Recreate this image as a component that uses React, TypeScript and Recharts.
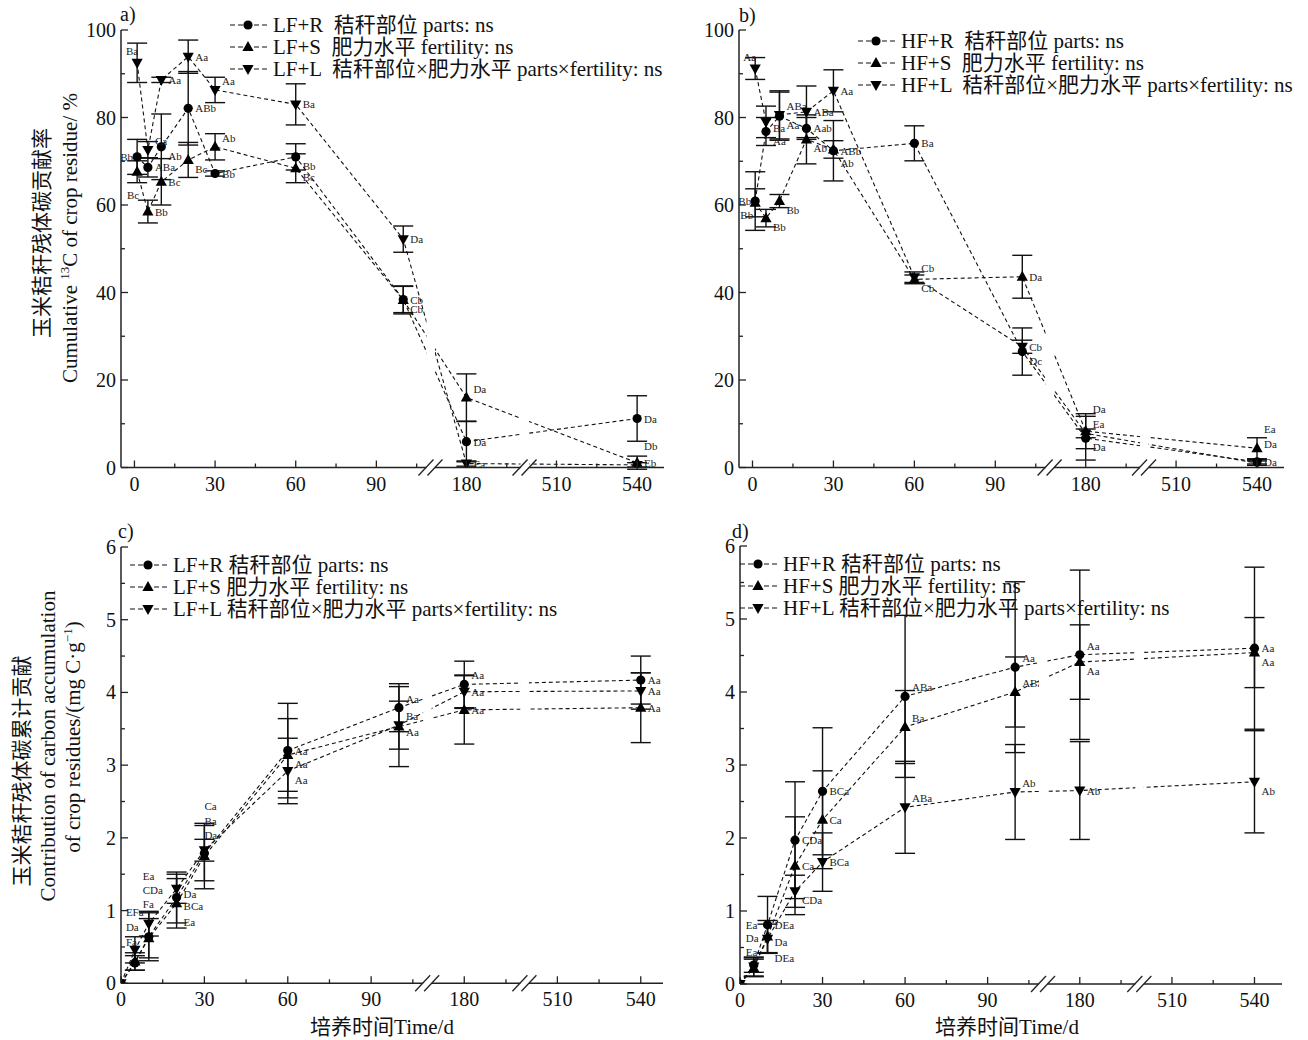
import React from 'react';
import { LineChart, Line, XAxis, YAxis, ErrorBar, ReferenceDot } from 'recharts';

const FONT = "'Liberation Serif', 'Times New Roman', 'Noto Sans CJK SC', serif";
const INK = '#111';

// ---------- shared x axis (broken time axis) ----------
const xMajorDays = [0, 30, 60, 90, 180, 510, 540];
const xMinorDays = [15, 45, 75, 105, 195, 525];
const BREAKS = [110.5, 145.5];
const toPos = (d: number): number => (d <= 120 ? d : d < 400 ? d - 56.5 : d - 353);

// ---------- panel a : LF, cumulative 13C (%) ----------
const daysA = [1, 5, 10, 20, 30, 60, 100, 180, 540];
const aR = [71.0, 68.6, 73.3, 82.1, 67.2, 71.0, 38.4, 5.9, 11.2];
const aRe = [4.0, 2.2, 7.5, 8.4, 0.6, 3.0, 3.0, 4.6, 5.2];
const aS = [67.6, 58.5, 65.3, 70.3, 73.3, 68.4, 38.3, 16.0, 1.1];
const aSe = [2.5, 2.6, 5.3, 4.0, 3.0, 3.3, 3.2, 5.4, 1.5];
const aL = [92.5, 72.6, 88.6, 93.9, 86.3, 83.0, 52.2, 0.9, 0.6];
const aLe = [4.5, 1.9, 0.6, 3.8, 2.9, 4.7, 3.0, 0.6, 0.5];
const aRlab = ['ABb', 'ABa', 'Ab', 'ABb', 'Bb', 'Bb', 'Cb', 'Da', 'Da'];
const aSlab = ['Bc', 'Bb', 'Bc', 'Bc', 'Ab', 'Bc', 'Cb', 'Da', 'Eb'];
const aLlab = ['Ba', 'Ca', 'Aa', 'Aa', 'Aa', 'Ba', 'Da', 'Ea', 'Db'];
const aRpl = ['l', 'r', 'rd', 'r', 'r', 'rd', 'r', 'r', 'r'];
const aSpl = ['ldd', 'r', 'r', 'rd', 'ru', 'rd', 'rd', 'ru', 'r'];
const aLpl = ['lu', 'ru', 'r', 'r', 'ru', 'r', 'r', 'r', 'ruu'];

// ---------- panel b : HF, cumulative 13C (%) ----------
const bR = [60.9, 76.8, 80.3, 77.5, 72.4, 74.1, 26.5, 6.7, 1.3];
const bRe = [6.7, 3.2, 5.5, 2.5, 6.9, 4.0, 5.4, 5.0, 0.5];
const bS = [60.5, 57.0, 60.9, 75.0, 72.7, 43.0, 43.6, 8.3, 4.4];
const bSe = [3.2, 2.0, 1.5, 5.6, 2.0, 1.0, 4.9, 4.0, 2.4];
const bL = [91.2, 79.0, 80.6, 81.3, 86.1, 43.5, 27.6, 7.8, 1.0];
const bLe = [2.5, 3.6, 5.5, 5.9, 4.8, 1.2, 1.5, 1.0, 0.5];
const bRlab = ['Bb', 'Ba', 'Aa', 'Aab', 'ABb', 'Ba', 'Dc', 'Da', 'Da'];
const bSlab = ['Bb', 'Bb', 'Bb', 'Ab', 'Ab', 'Cb', 'Da', 'Da', 'Ea'];
const bLlab = ['Aa', 'Aa', 'ABa', 'ABa', 'Aa', 'Cb', 'Cb', 'Ea', 'Da'];
const bRpl = ['l', 'r0', 'rd', 'r', 'r', 'r', 'rd', 'rd', 'r'];
const bSpl = ['ld', 'rd', 'rd', 'rd', 'rd2', 'rd', 'r', 'ru2', 'ruu'];
const bLpl = ['lu', 'rdd', 'ru', 'r', 'r', 'ru', 'r', 'ru', 'ruu'];

// ---------- panel c : LF, carbon accumulation (mg C/g) ----------
const daysC = [0, 5, 10, 20, 30, 60, 100, 180, 540];
const cR = [0, 0.28, 0.64, 1.18, 1.79, 3.20, 3.79, 4.11, 4.17];
const cRe = [0, 0.1, 0.33, 0.35, 0.38, 0.65, 0.33, 0.32, 0.33];
const cS = [0, 0.30, 0.62, 1.10, 1.75, 3.14, 3.53, 3.76, 3.79];
const cSe = [0, 0.12, 0.27, 0.34, 0.45, 0.5, 0.55, 0.47, 0.48];
const cL = [0, 0.46, 0.82, 1.30, 1.83, 2.92, 3.55, 4.01, 4.02];
const cLe = [0, 0.18, 0.17, 0.2, 0.15, 0.45, 0.33, 0.23, 0.25];
const cRlab = ['', 'Da', 'CDa', 'BCa', 'Ba', 'Aa', 'Aa', 'Aa', 'Aa'];
const cSlab = ['', 'Fa', 'Fa', 'Ea', 'Da', 'Aa', 'Aa', 'Aa', 'Aa'];
const cLlab = ['', 'EFa', 'Ea', 'Da', 'Ca', 'Aa', 'Ba', 'Aa', 'Aa'];
const cRpl = ['r', 'q2', 'w2', 'rd', 'e2', 'r', 'ru', 'ru', 'r'];
const cSpl = ['r', 'q3', 'w3', 'rdd', 'e3', 'rd', 'rm', 'r', 'r'];
const cLpl = ['r', 'q1', 'w1', 'rm', 'e1', 'rd', 'ru', 'r', 'r'];

// ---------- panel d : HF, carbon accumulation (mg C/g) ----------
const dR = [0, 0.26, 0.81, 1.97, 2.64, 3.94, 4.34, 4.51, 4.60];
const dRe = [0, 0.1, 0.39, 0.8, 0.87, 1.11, 1.17, 1.16, 1.11];
const dS = [0, 0.22, 0.65, 1.62, 2.25, 3.52, 4.00, 4.41, 4.54];
const dSe = [0, 0.12, 0.22, 0.67, 0.67, 0.5, 0.48, 0.51, 0.48];
const dL = [0, 0.24, 0.62, 1.27, 1.67, 2.42, 2.63, 2.65, 2.77];
const dLe = [0, 0.13, 0.2, 0.22, 0.4, 0.63, 0.65, 0.67, 0.70];
const dRlab = ['', 'Ea', 'DEa', 'CDa', 'BCa', 'ABa', 'Aa', 'Aa', 'Aa'];
const dSlab = ['', 'Da', 'Da', 'Ca', 'Ca', 'Ba', 'ABa', 'Aa', 'Aa'];
const dLlab = ['', 'Ea', 'DEa', 'CDa', 'BCa', 'ABa', 'Ab', 'Ab', 'Ab'];
const dRpl = ['r', 't1', 'r', 'r', 'r', 'ru', 'ru', 'ru', 'r'];
const dSpl = ['r', 't2', 'rm', 'r', 'r', 'ru', 'ru', 'rd', 'rd'];
const dLpl = ['r', 't3', 'rdd', 'rd', 'r', 'ru', 'ru', 'r', 'rd'];

// ---------- legends ----------
const legendA = ['LF+R  秸秆部位 parts: ns', 'LF+S  肥力水平 fertility: ns', 'LF+L  秸秆部位×肥力水平 parts×fertility: ns'];
const legendB = ['HF+R  秸秆部位 parts: ns', 'HF+S  肥力水平 fertility: ns', 'HF+L  秸秆部位×肥力水平 parts×fertility: ns'];
const legendC = ['LF+R 秸秆部位 parts: ns', 'LF+S 肥力水平 fertility: ns', 'LF+L 秸秆部位×肥力水平 parts×fertility: ns'];
const legendD = ['HF+R 秸秆部位 parts: ns', 'HF+S 肥力水平 fertility: ns', 'HF+L 秸秆部位×肥力水平 parts×fertility: ns'];
const SHAPES = ['circle', 'up', 'down'];

// label placement codes: [dx, dy, anchor]
const PLACE: Record<string, [number, number, string]> = {
  r: [7, 4, 'start'], r0: [7, 0, 'start'], ru: [7, -5, 'start'], ruu: [7, -15, 'start'], ru2: [7, -18, 'start'],
  rm: [7, 9, 'start'], rd: [7, 13, 'start'], rd2: [7, 18, 'start'], rdd: [7, 23, 'start'],
  l: [-4, 4, 'end'], lu: [1, -8, 'end'], ld: [-2, 16, 'end'], ldd: [2, 27, 'end'],
  q1: [-9, -34, 'start'], q2: [-9, -32, 'start'], q3: [-9, -15, 'start'],
  w1: [-6, -44, 'start'], w2: [-6, -43, 'start'], w3: [-6, -30, 'start'],
  e1: [0, -40, 'start'], e2: [0, -28, 'start'], e3: [0, -17, 'start'],
  t1: [-8, -36, 'start'], t2: [-8, -26, 'start'], t3: [-8, -10, 'start'],
};

const buildRows = (days: number[], R: number[], Re: number[], S: number[], Se: number[], L: number[], Le: number[]) =>
  days.map((d, i) => ({ day: d, pos: toPos(d), R: R[i], Re: Re[i], S: S[i], Se: Se[i], L: L[i], Le: Le[i] }));

const X_TICKS = [
  ...xMajorDays.map((d) => ({ pos: toPos(d), text: String(d) })),
  ...xMinorDays.map((d) => ({ pos: toPos(d), text: '' })),
].sort((a, b) => a.pos - b.pos);

function Marker({ shape, cx, cy }: { shape: string; cx: number; cy: number }) {
  if (shape === 'circle') return <circle cx={cx} cy={cy} r={4.6} fill="#000" />;
  if (shape === 'up')
    return <polygon points={`${cx},${cy - 6} ${cx - 5.6},${cy + 4} ${cx + 5.6},${cy + 4}`} fill="#000" />;
  return <polygon points={`${cx},${cy + 6} ${cx - 5.6},${cy - 4} ${cx + 5.6},${cy - 4}`} fill="#000" />;
}

const makeDot = (shape: string, labels: string[], places: string[]) => (props: any) => {
  const { cx, cy, index } = props;
  if (cx == null || cy == null || isNaN(cx) || isNaN(cy)) return <g key={`n${index}`} />;
  const lab = labels[index];
  const pl = PLACE[places[index]] || PLACE.r;
  return (
    <g key={`d${index}`}>
      {lab ? (
        <text x={cx + pl[0]} y={cy + pl[1]} textAnchor={pl[2] as any} fontSize={11} fill="#222" fontFamily={FONT}>
          {lab}
        </text>
      ) : null}
      <Marker shape={shape} cx={cx} cy={cy} />
    </g>
  );
};

const renderXTick = (p: any) => {
  const { x, y, payload } = p;
  const t = X_TICKS.find((m) => Math.abs(m.pos - payload.value) < 0.01);
  const major = !!(t && t.text);
  return (
    <g>
      <line x1={x} x2={x} y1={y} y2={y - (major ? 7 : 4)} stroke="#222" strokeWidth={1.3} />
      {major ? (
        <text x={x} y={y + 23} textAnchor="middle" fontSize={20} fontFamily={FONT} fill={INK}>
          {t!.text}
        </text>
      ) : null}
    </g>
  );
};

const makeYTick = (majorStep: number) => (p: any) => {
  const { x, y, payload } = p;
  const v = payload.value;
  const major = Math.abs(v / majorStep - Math.round(v / majorStep)) < 1e-6;
  return (
    <g>
      <line x1={x} x2={x + (major ? 7 : 4)} y1={y} y2={y} stroke="#222" strokeWidth={1.3} />
      {major ? (
        <text x={x - 5} y={y} dy="0.35em" textAnchor="end" fontSize={20} fontFamily={FONT} fill={INK}>
          {v}
        </text>
      ) : null}
    </g>
  );
};

const BreakMark = (p: any) => {
  const { cx, cy, plotH } = p;
  return (
    <g>
      <rect x={cx - 5} y={cy - plotH} width={8.5} height={plotH + 1.5} fill="#fff" />
      <line x1={cx - 13} y1={cy + 8} x2={cx + 2} y2={cy - 8} stroke="#222" strokeWidth={1.3} />
      <line x1={cx - 4} y1={cy + 8} x2={cx + 11} y2={cy - 8} stroke="#222" strokeWidth={1.3} />
    </g>
  );
};

type PanelProps = {
  box: [number, number, number, number];
  margin: { top: number; right: number; bottom: number; left: number };
  yAxisWidth: number;
  xDomain: [number, number];
  yDomain: [number, number];
  yTicks: number[];
  majorStep: number;
  rows: any[];
  labels: string[][];
  places: string[][];
};

function Panel({ box, margin, yAxisWidth, xDomain, yDomain, yTicks, majorStep, rows, labels, places }: PanelProps) {
  const plotH = box[3] - margin.top - margin.bottom - 30;
  const keys = ['R', 'S', 'L'];
  return (
    <div style={{ position: 'absolute', left: box[0], top: box[1] }}>
      <LineChart width={box[2]} height={box[3]} data={rows} margin={margin}>
        <XAxis
          type="number"
          dataKey="pos"
          domain={xDomain}
          ticks={X_TICKS.map((t) => t.pos)}
          interval={0}
          allowDataOverflow
          tickLine={false}
          tickSize={0}
          tickMargin={0}
          height={30}
          axisLine={{ stroke: '#222', strokeWidth: 1.5 }}
          tick={renderXTick}
        />
        <YAxis
          type="number"
          domain={yDomain}
          ticks={yTicks}
          interval={0}
          allowDataOverflow
          tickLine={false}
          tickSize={0}
          tickMargin={0}
          width={yAxisWidth}
          axisLine={{ stroke: '#222', strokeWidth: 1.5 }}
          tick={makeYTick(majorStep)}
        />
        {keys.map((k, si) => (
          <Line
            key={k}
            type="linear"
            dataKey={k}
            stroke={INK}
            strokeWidth={1.1}
            strokeDasharray="4 3"
            dot={makeDot(SHAPES[si], labels[si], places[si])}
            activeDot={false}
            isAnimationActive={false}
          >
            <ErrorBar dataKey={`${k}e`} width={10} stroke={INK} strokeWidth={1.4} direction="y" isAnimationActive={false} />
          </Line>
        ))}
        {BREAKS.map((b) => (
          <ReferenceDot
            key={b}
            x={b}
            y={yDomain[0]}
            r={0}
            ifOverflow="visible"
            shape={(p: any) => <BreakMark {...p} plotH={plotH} />}
          />
        ))}
      </LineChart>
    </div>
  );
}

function LegendBox({ x, centers, items }: { x: number; centers: number[]; items: string[] }) {
  return (
    <>
      {items.map((t, i) => (
        <div
          key={i}
          style={{
            position: 'absolute', left: x, top: centers[i] - 10, height: 20, display: 'flex', alignItems: 'center',
            whiteSpace: 'pre', fontFamily: FONT, fontSize: 21, lineHeight: '20px', color: INK,
          }}
        >
          <svg width={42} height={20} style={{ display: 'block' }}>
            <line x1={1} y1={10} x2={41} y2={10} stroke={INK} strokeWidth={1.1} strokeDasharray="5 3" />
            <Marker shape={SHAPES[i]} cx={19} cy={10} />
          </svg>
          <span style={{ marginLeft: 2, lineHeight: '20px' }}>{t}</span>
        </div>
      ))}
    </>
  );
}

const txt: React.CSSProperties = { position: 'absolute', fontFamily: FONT, fontSize: 21, color: INK, whiteSpace: 'nowrap', lineHeight: '23px' };

function VText({ cx, cy, children }: { cx: number; cy: number; children: React.ReactNode }) {
  return <div style={{ ...txt, left: cx, top: cy, transform: 'translate(-50%,-50%) rotate(-90deg)' }}>{children}</div>;
}
function HText({ cx, cy, children, size = 21 }: { cx: number; cy: number; children: React.ReactNode; size?: number }) {
  return <div style={{ ...txt, fontSize: size, left: cx, top: cy, transform: 'translate(-50%,-50%)' }}>{children}</div>;
}

const yTicksPct = [0, 10, 20, 30, 40, 50, 60, 70, 80, 90, 100];
const yTicksMg = [0, 0.5, 1, 1.5, 2, 2.5, 3, 3.5, 4, 4.5, 5, 5.5, 6];

export default function App() {
  const rowsA = buildRows(daysA, aR, aRe, aS, aSe, aL, aLe);
  const rowsB = buildRows(daysA, bR, bRe, bS, bSe, bL, bLe);
  const rowsC = buildRows(daysC, cR, cRe, cS, cSe, cL, cLe);
  const rowsD = buildRows(daysC, dR, dRe, dS, dSe, dL, dLe);
  const sup: React.CSSProperties = { fontSize: 13, verticalAlign: 'super', lineHeight: 0 };
  return (
    <div style={{ position: 'absolute', left: 0, top: 0, width: 1308, height: 1040, background: '#fff', overflow: 'hidden' }}>
      <Panel
        box={[0, 0, 680, 510]}
        margin={{ top: 30, right: 16, bottom: 12.5, left: 61 }}
        yAxisWidth={60}
        xDomain={[-5, 197]}
        yDomain={[0, 100]}
        yTicks={yTicksPct}
        majorStep={20}
        rows={rowsA}
        labels={[aRlab, aSlab, aLlab]}
        places={[aRpl, aSpl, aLpl]}
      />
      <Panel
        box={[680, 0, 628, 510]}
        margin={{ top: 30, right: 24, bottom: 12.5, left: 9 }}
        yAxisWidth={50}
        xDomain={[-5, 197]}
        yDomain={[0, 100]}
        yTicks={yTicksPct}
        majorStep={20}
        rows={rowsB}
        labels={[bRlab, bSlab, bLlab]}
        places={[bRpl, bSpl, bLpl]}
      />
      <Panel
        box={[0, 510, 680, 530]}
        margin={{ top: 37, right: 17, bottom: 26.7, left: 61 }}
        yAxisWidth={60}
        xDomain={[0, 195]}
        yDomain={[0, 6]}
        yTicks={yTicksMg}
        majorStep={1}
        rows={rowsC}
        labels={[cRlab, cSlab, cLlab]}
        places={[cRpl, cSpl, cLpl]}
      />
      <Panel
        box={[680, 510, 628, 530]}
        margin={{ top: 36, right: 26, bottom: 26, left: 10 }}
        yAxisWidth={50}
        xDomain={[0, 197]}
        yDomain={[0, 6]}
        yTicks={yTicksMg}
        majorStep={1}
        rows={rowsD}
        labels={[dRlab, dSlab, dLlab]}
        places={[dRpl, dSpl, dLpl]}
      />

      <LegendBox x={229} centers={[25, 47, 69]} items={legendA} />
      <LegendBox x={857} centers={[40.5, 62.5, 84.5]} items={legendB} />
      <LegendBox x={129} centers={[565, 587, 609]} items={legendC} />
      <LegendBox x={739} centers={[564, 586, 608]} items={legendD} />

      <div style={{ ...txt, left: 120, top: 3, fontSize: 20 }}>a)</div>
      <div style={{ ...txt, left: 739, top: 4, fontSize: 20 }}>b)</div>
      <div style={{ ...txt, left: 118, top: 520, fontSize: 20 }}>c)</div>
      <div style={{ ...txt, left: 732, top: 520, fontSize: 20 }}>d)</div>

      <VText cx={42} cy={233}>玉米秸秆残体碳贡献率</VText>
      <VText cx={70} cy={238}>
        Cumulative <span style={sup}>13</span>C of crop residue/ %
      </VText>
      <VText cx={22} cy={771}>玉米秸秆残体碳累计贡献</VText>
      <VText cx={48} cy={746}>Contribution of carbon accumulation</VText>
      <VText cx={73} cy={737}>
        of crop residues/(mg C·g<span style={sup}>−1</span>)
      </VText>

      <HText cx={382} cy={1027}>培养时间Time/d</HText>
      <HText cx={1007} cy={1027}>培养时间Time/d</HText>
    </div>
  );
}
